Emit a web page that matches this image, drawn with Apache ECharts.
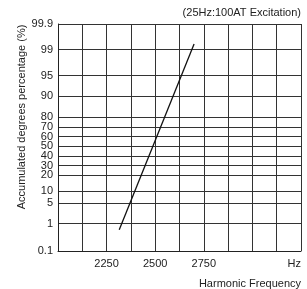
<!DOCTYPE html>
<html>
<head>
<meta charset="utf-8">
<script src="https://cdn.jsdelivr.net/npm/echarts@6/dist/echarts.min.js"></script>
<style>
  html, body { margin: 0; padding: 0; background: #fff; }
  #chart { width: 307px; height: 289px; }
</style>
</head>
<body>
<div id="chart"></div>
<script>
// probability paper: percent labels and where each sits on the paper (0 = bottom)
const probLabels = [0.1, 1, 5, 10, 20, 30, 40, 50, 60, 70, 80, 90, 95, 99, 99.9]
const probPaper = [0, 27.3, 48, 60, 76, 85.3, 95, 105, 114.3, 124, 133.6, 154.8, 175.3, 201.3, 227]
const freqLabels = [2250, 2500, 2750]
// measured line (Hz, accumulated %)
const lineHz = [2315, 2700]
const linePct = [0.8, 99.2]

// percent -> position on the paper scale
function toPaper(p) {
  for (let i = 1; i < probLabels.length; i++) {
    if (p <= probLabels[i]) {
      const t = (p - probLabels[i - 1]) / (probLabels[i] - probLabels[i - 1])
      return probPaper[i - 1] + t * (probPaper[i] - probPaper[i - 1])
    }
  }
  return probPaper[probPaper.length - 1]
}

const font = 'Liberation Sans, Arial, sans-serif'
const chart = echarts.init(document.querySelector('#chart'))
const option = {
  animation: false,
  textStyle: { fontFamily: font },
  title: {
    text: '(25Hz:100AT Excitation)',
    right: 6,
    top: 7,
    padding: 0,
    textStyle: { fontSize: 11, fontWeight: 'normal', color: '#222', fontFamily: font },
  },
  grid: { left: 58, right: 6, top: 24, bottom: 38 },
  xAxis: {
    type: 'value',
    min: 2000,
    max: 3250,
    interval: 125,
    axisLine: { lineStyle: { color: '#222', width: 1 } },
    axisTick: { show: false },
    splitLine: { show: true, lineStyle: { color: '#333', width: 1 } },
    axisLabel: {
      customValues: [...freqLabels, 3250],
      formatter: v => (v === 3250 ? 'Hz' : String(v)),
      alignMaxLabel: 'right',
      showMaxLabel: true,
      color: '#222',
      fontSize: 11,
      margin: 7,
      fontFamily: font,
    },
  },
  yAxis: {
    type: 'value',
    min: 0,
    max: 227,
    axisLine: { show: true, lineStyle: { color: '#222', width: 1 } },
    axisTick: { show: false, customValues: probPaper },
    splitLine: { show: true, lineStyle: { color: '#333', width: 1 } },
    axisLabel: {
      customValues: probPaper,
      formatter: v => String(probLabels[probPaper.indexOf(v)]),
      color: '#222',
      fontSize: 11,
      margin: 5,
      showMinLabel: true,
      showMaxLabel: true,
      fontFamily: font,
    },
  },
  graphic: [
    {
      type: 'text',
      x: 22,
      y: 117,
      rotation: Math.PI / 2,
      style: {
        text: 'Accumulated degrees percentage (%)',
        fill: '#222',
        font: '11px ' + font,
        align: 'center',
        verticalAlign: 'middle',
      },
    },
    {
      type: 'text',
      x: 301,
      y: 284,
      style: {
        text: 'Harmonic Frequency',
        fill: '#222',
        font: '11px ' + font,
        align: 'right',
        verticalAlign: 'middle',
      },
    },
  ],
  series: [
    {
      type: 'line',
      data: lineHz.map((h, i) => [h, toPaper(linePct[i])]),
      symbol: 'none',
      lineStyle: { color: '#111', width: 1.3 },
    },
  ],
}
chart.setOption(option)
</script>
</body>
</html>
